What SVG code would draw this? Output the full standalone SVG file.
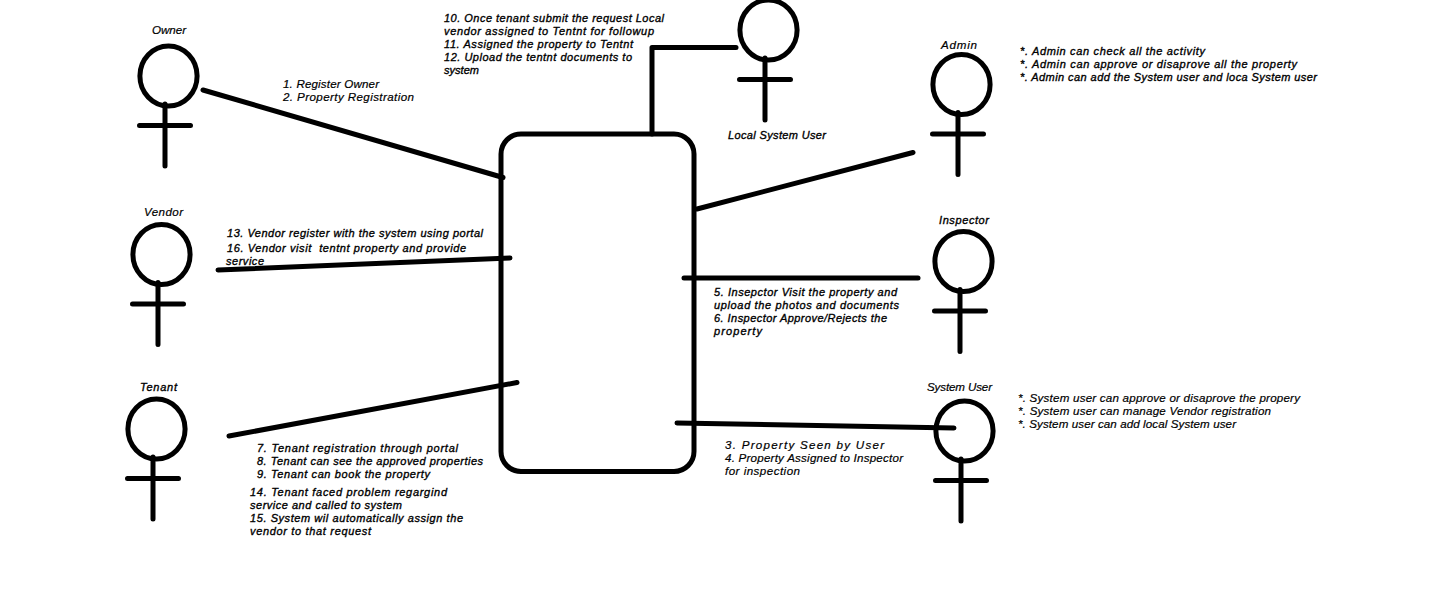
<svg xmlns="http://www.w3.org/2000/svg" width="1436" height="616" viewBox="0 0 1436 616">
<style>
.s{fill:none;stroke:#000;stroke-width:5;stroke-linecap:round;stroke-linejoin:round}
text{font-family:"Liberation Sans",Arial,sans-serif;font-size:11px;font-style:italic;fill:#000;white-space:pre}
.n{stroke:#000;stroke-width:.35px}
.l{stroke:#000;stroke-width:.2px;font-size:11.6px}
</style>
<defs>
<g id="actor"><ellipse class="s" cx="3.5" cy="-28" rx="28.6" ry="30"/><path class="s" d="M0,0V62M-25.5,21.5H25.5"/></g>
</defs>
<rect width="1436" height="616" fill="#fff"/>
<g id="system"><rect class="s" x="501" y="134" width="193" height="337.500" rx="20"/></g>
<g id="connectors">
<path class="s" d="M203,90L503,177.500"/>
<path class="s" d="M218,270L510,258"/>
<path class="s" d="M229,436L517,382.500"/>
<path class="s" d="M652,134V47.500H736"/>
<path class="s" d="M697,209L913,152.500"/>
<path class="s" d="M684,278H918"/>
<path class="s" d="M677,423L954,428"/>
</g>
<g id="owner"><use href="#actor" x="165" y="104"/><text class="l" x="152" y="34" textLength="34">Owner</text></g>
<g id="vendor"><use href="#actor" x="158" y="282.500"/><text class="l" x="144" y="216" textLength="39">Vendor</text></g>
<g id="tenant"><use href="#actor" x="153" y="457"/><text class="n" x="140" y="391" textLength="37">Tenant</text></g>
<g id="local-system-user"><use href="#actor" x="765" y="58"/><text class="n" x="728" y="139" textLength="98">Local System User</text></g>
<g id="admin"><use href="#actor" x="958" y="112.500"/><text class="l" x="941" y="49" textLength="36">Admin</text></g>
<g id="inspector"><use href="#actor" x="960" y="289.500"/><text class="n" x="939" y="224" textLength="50">Inspector</text></g>
<g id="system-user"><use href="#actor" x="961" y="459"/><text class="l" x="927" y="391" textLength="65">System User</text></g>
<g id="notes">
<text class="l" x="283" y="88" textLength="96">1. Register Owner</text>
<text class="l" x="283" y="101" textLength="131">2. Property Registration</text>
<text class="n" x="444" y="22" textLength="220">10. Once tenant submit the request Local</text>
<text class="n" x="444" y="35" textLength="210">vendor assigned to Tentnt for followup</text>
<text class="n" x="444" y="48" textLength="189">11. Assigned the property to Tentnt</text>
<text class="n" x="444" y="61" textLength="188">12. Upload the tentnt documents to</text>
<text class="n" x="444" y="74" textLength="35">system</text>
<text class="n" x="1020" y="55" textLength="185">*. Admin can check all the activity</text>
<text class="n" x="1020" y="68" textLength="277">*. Admin can approve or disaprove all the property</text>
<text class="n" x="1020" y="81" textLength="297">*. Admin can add the System user and loca System user</text>
<text class="n" x="227" y="237" textLength="256">13. Vendor register with the system using portal</text>
<text class="n" x="227" y="252" textLength="239">16. Vendor visit  tentnt property and provide</text>
<text class="n" x="226" y="265" textLength="38">service</text>
<text class="n" x="714" y="296" textLength="183">5. Insepctor Visit the property and</text>
<text class="n" x="714" y="309" textLength="185">upload the photos and documents</text>
<text class="n" x="714" y="322" textLength="173">6. Inspector Approve/Rejects the</text>
<text class="n" x="714" y="335" textLength="48">property</text>
<text class="l" x="1018" y="402" textLength="282">*. System user can approve or disaprove the propery</text>
<text class="l" x="1018" y="415" textLength="253">*. System user can manage Vendor registration</text>
<text class="l" x="1018" y="428" textLength="218">*. System user can add local System user</text>
<text class="l" x="725" y="449" textLength="159">3. Property Seen by User</text>
<text class="l" x="725" y="462" textLength="178">4. Property Assigned to Inspector</text>
<text class="l" x="725" y="475" textLength="75">for inspection</text>
<text class="n" x="257" y="452" textLength="201">7. Tenant registration through portal</text>
<text class="n" x="257" y="465" textLength="226">8. Tenant can see the approved properties</text>
<text class="n" x="257" y="478" textLength="173">9. Tenant can book the property</text>
<text class="n" x="250" y="496" textLength="197">14. Tenant faced problem regargind</text>
<text class="n" x="250" y="509" textLength="152">service and called to system</text>
<text class="n" x="250" y="522" textLength="213">15. System wil automatically assign the</text>
<text class="n" x="250" y="535" textLength="121">vendor to that request</text>
</g>
</svg>
